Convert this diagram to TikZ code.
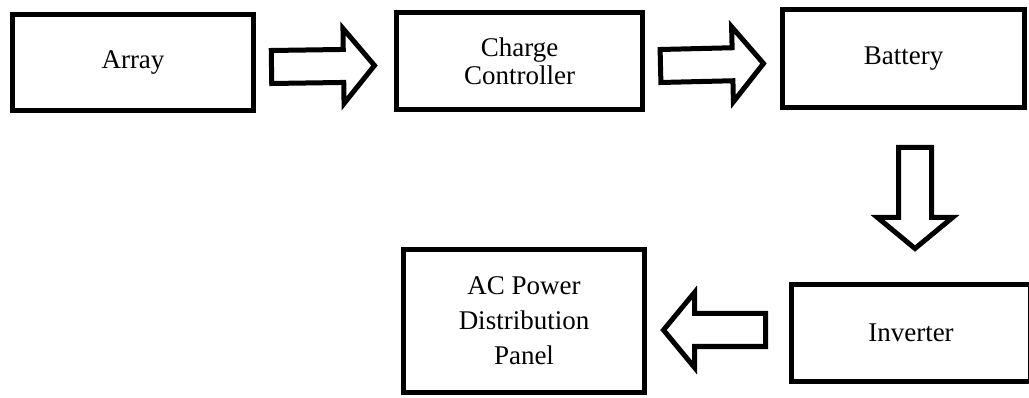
\documentclass[tikz,border=0pt]{standalone}
\usepackage{fontspec}
\setmainfont{Liberation Serif}
\usetikzlibrary{calc}

\tikzset{
  box/.style={draw, line width=5pt, outer sep=0pt, inner sep=0pt, align=center,
    font=\fontsize{27}{28}\selectfont},
  fat/.style={draw, line width=5pt, miter limit=10, to path={
    ($(\tikztostart)!16.5pt!-90:(\tikztotarget)$)
    -- ($(\tikztotarget)!31pt!(\tikztostart)!16.5pt!-90:(\tikztotarget)$)
    -- ($(\tikztotarget)!31pt!(\tikztostart)!37.5pt!-90:(\tikztotarget)$)
    -- (\tikztotarget)
    -- ($(\tikztotarget)!31pt!(\tikztostart)!37.5pt!90:(\tikztotarget)$)
    -- ($(\tikztotarget)!31pt!(\tikztostart)!16.5pt!90:(\tikztotarget)$)
    -- ($(\tikztostart)!16.5pt!90:(\tikztotarget)$)
    -- cycle}}
}

\begin{document}
\begin{tikzpicture}[x=1pt, y=-1pt]
\useasboundingbox (0,0) rectangle (1029,398);

% blocchi
\node[box, minimum width=241pt, minimum height=96pt] (array) at (133,62.5) {Array};
\node[box, minimum width=246pt, minimum height=97pt] (charge) at (519.5,61) {Charge\\Controller};
\node[box, minimum width=242pt, minimum height=98pt] (battery) at (903.5,58.5) {Battery};
\node[box, minimum width=239pt, minimum height=97pt] (inverter) at (911,333) {Inverter};
\node[box, minimum width=241pt, minimum height=143pt, font=\fontsize{27}{35}\selectfont]
  (panel) at (524,321) {AC Power\\Distribution\\Panel};

% frecce
\path[fat] ([xshift=18pt,yshift=-4.5pt]array.east) to ([xshift=-22pt,yshift=-4.5pt]charge.west);
\path[fat] ([xshift=18pt,yshift=-5pt]charge.east) to ([xshift=-19pt,yshift=-5pt]battery.west);
\path[fat] ([xshift=11.5pt,yshift=-40pt]battery.south) to ([xshift=4pt,yshift=36pt]inverter.north);
\path[fat] ([xshift=-26pt,yshift=3pt]inverter.west) to ([xshift=19pt,yshift=-9pt]panel.east);

\end{tikzpicture}
\end{document}
